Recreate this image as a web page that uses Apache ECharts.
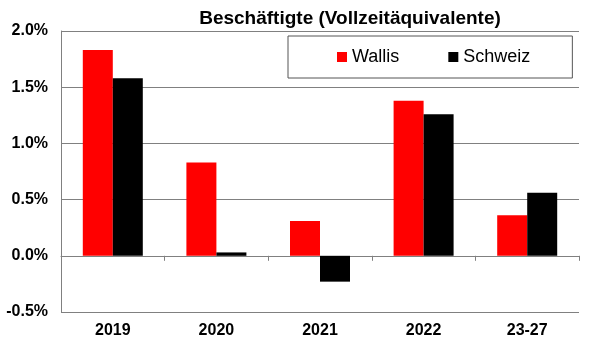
<!DOCTYPE html>
<html>
<head>
<meta charset="utf-8">
<script src="https://cdn.jsdelivr.net/npm/echarts@6/dist/echarts.min.js"></script>
<style>html,body{margin:0;padding:0;background:#fff}#c{width:610px;height:358px}</style>
</head>
<body>
<div id="c"></div>
<script>
const categories = ['2019', '2020', '2021', '2022', '23-27'];
const wallis = [1.83, 0.83, 0.31, 1.38, 0.36];
const schweiz = [1.58, 0.03, -0.23, 1.26, 0.56];
const title = 'Beschäftigte (Vollzeitäquivalente)';

const FONT = '"Liberation Sans", Arial, sans-serif';
const chart = echarts.init(document.getElementById('c'), null, {renderer: 'canvas'});
chart.setOption({
  animation: false,
  backgroundColor: '#fff',
  title: {
    text: title, left: 345, top: 4, textAlign: 'center',
    textStyle: {fontFamily: FONT, fontSize: 19, fontWeight: 'bold', color: '#000'}
  },
  legend: {
    left: 288, top: 36,
    data: ['Wallis', 'Schweiz'],
    icon: 'rect', itemWidth: 10, itemHeight: 10, itemGap: 49,
    padding: [12, 42, 12, 49],
    borderColor: '#555', borderWidth: 1, backgroundColor: '#fff',
    textStyle: {fontFamily: FONT, fontSize: 18, color: '#000', padding: [0, 0, 0, 0]}
  },
  grid: {left: 61, right: 31, top: 31, bottom: 46, containLabel: false},
  xAxis: [{
    type: 'category', data: categories, position: 'bottom',
    axisLine: {onZero: true, lineStyle: {color: '#808080', width: 1}},
    axisTick: {show: true, length: 5, alignWithLabel: false, lineStyle: {color: '#808080'}},
    axisLabel: {show: false}
  }, {
    type: 'category', data: categories, position: 'bottom',
    axisLine: {show: false, onZero: false}, axisTick: {show: false},
    axisLabel: {margin: 11, fontFamily: FONT, fontSize: 16, fontWeight: 'bold', color: '#000'}
  }],
  yAxis: {
    type: 'value', min: -0.5, max: 2.0, interval: 0.5,
    axisLine: {show: true, lineStyle: {color: '#808080'}},
    axisTick: {show: false},
    splitLine: {lineStyle: {color: '#808080', width: 1}},
    axisLabel: {margin: 13, fontFamily: FONT, fontSize: 16, fontWeight: 'bold', color: '#000',
      formatter: v => v.toFixed(1) + '%'}
  },
  series: [{
    name: 'Wallis', type: 'bar', data: wallis, xAxisIndex: 0,
    itemStyle: {color: '#ff0000'}, barWidth: 30, barGap: '0%'
  }, {
    name: 'Schweiz', type: 'bar', data: schweiz, xAxisIndex: 0,
    itemStyle: {color: '#000000'}, barWidth: 30, barGap: '0%'
  }]
});
</script>
</body>
</html>
